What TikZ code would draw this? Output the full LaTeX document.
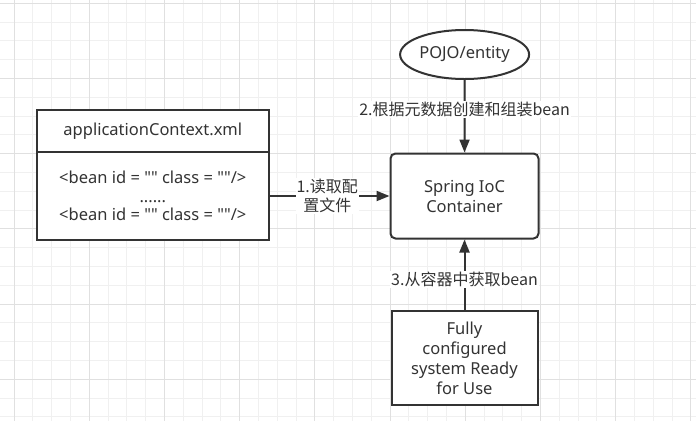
\documentclass[tikz,border=0pt]{standalone}
\usepackage{fontspec}
\setmainfont{Noto Sans}
\newfontfamily\cjk{Noto Sans CJK SC}
\usetikzlibrary{arrows.meta,shapes}
\definecolor{DGray}{HTML}{333333}
\definecolor{GMinor}{HTML}{F0F0F0}
\definecolor{GMajor}{HTML}{E0E0E0}
\newcommand{\qq}{\textquotedbl\textquotedbl}
\tikzset{
    block/.style = {draw=DGray, rectangle, line width=2pt, text=DGray,
        fill=white, minimum height=1cm, align=center},
    arrow/.style={draw=DGray, line width=2pt, -{Triangle[length=13pt,width=10pt,fill=DGray]}},
    lbl/.style = {fill=white, inner sep=1pt, text=DGray, align=center,
        font=\cjk\fontsize{16}{20}\selectfont}
}

\begin{document}
\begin{tikzpicture}[x=1pt,y=-1pt,font=\fontsize{16.5}{20}\selectfont]
                    \fill[white] (0,0) rectangle (696,421);
                    \useasboundingbox (0,0) rectangle (696,421);
                    \foreach \i in {0,...,36}{
                        \draw[GMinor,line width=1pt] ({14+18.8*\i},0) -- ({14+18.8*\i},421);
                    }
                    \foreach \j in {0,...,22}{
                        \draw[GMinor,line width=1pt] (0,{3.3+18.8*\j}) -- (696,{3.3+18.8*\j});
                    }
                    \foreach \i in {0,4,...,36}{
                        \draw[GMajor,line width=1pt] ({14+18.8*\i},0) -- ({14+18.8*\i},421);
                    }
                    \foreach \j in {0,4,...,20}{
                        \draw[GMajor,line width=1pt] (0,{3.3+18.8*\j}) -- (696,{3.3+18.8*\j});
                    }
                    \node[block,minimum width=232pt,minimum height=42pt] at (152.8,131) (xml) {applicationContext.xml};
                    \node[block,minimum width=232pt,minimum height=88pt] at (152.8,196) (beans) {<bean id = \qq{} class = \qq/>\\[-1pt]......\\[-2pt]<bean id = \qq{} class = \qq/>};
                    \node[block,rounded corners=5pt,minimum width=148pt,minimum height=85pt] at (464.5,196) (ioc) {Spring IoC\\Container};
                    \node[block,ellipse,minimum width=129pt,minimum height=49pt,inner sep=0pt] at (464.6,54.5) (pojo) {POJO/entity};
                    \node[block,minimum width=146pt,minimum height=94pt] at (464.5,358.2) (ready) {Fully\\configured\\system Ready\\for Use};
                    \draw[arrow] (beans) -- node[lbl,pos=0.48] (l1) {1.读取配\\[-1pt]置文件} (ioc);
                    \draw[arrow] (pojo) -- node[lbl,pos=0.41] (l2) {2.根据元数据创建和组装bean} (ioc);
                    \draw[arrow] (ready) -- node[lbl,pos=0.43] (l3) {3.从容器中获取bean} (ioc);
\end{tikzpicture}
\end{document}
